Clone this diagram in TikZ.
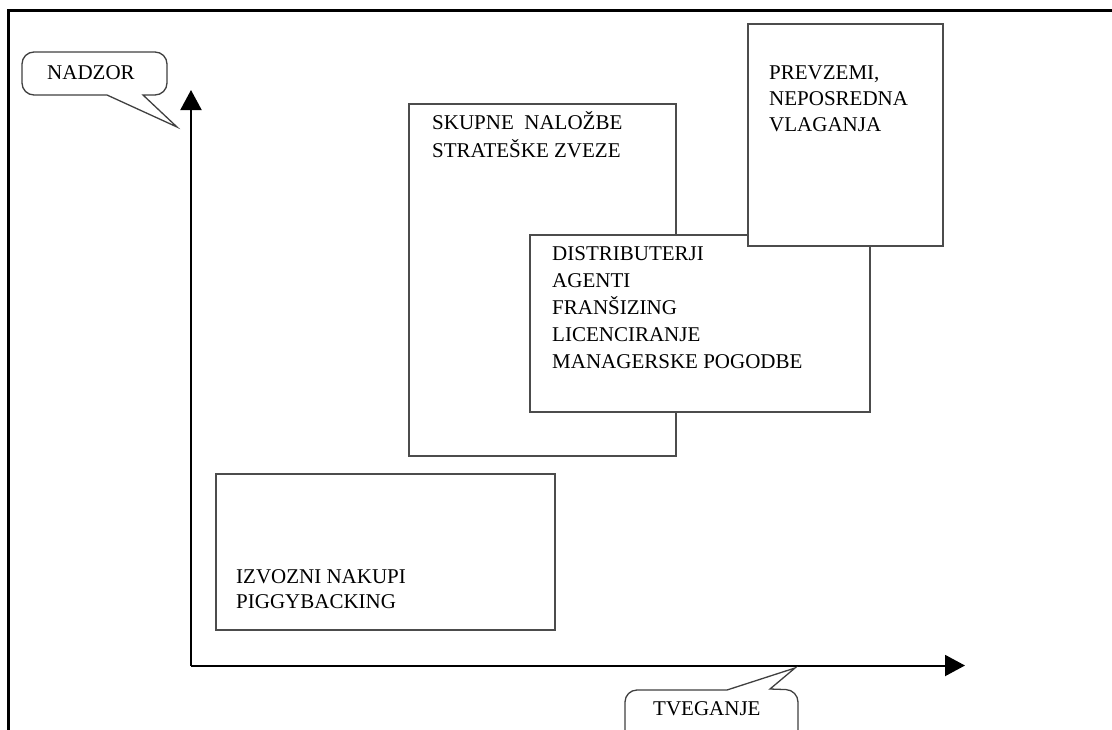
\documentclass[tikz,border=0pt]{standalone}
\usepackage{fontspec}
\setmainfont{Liberation Serif}
\usetikzlibrary{arrows.meta}
\tikzset{
  boxshape/.style={draw=black!70, line width=1.6pt, fill=white, rectangle, inner sep=0pt, anchor=north west},
  boxtext/.style={anchor=base west, inner sep=0pt, align=left, text=black},
  calloutline/.style={draw=black!75, line width=1.3pt, fill=white},
  axisline/.style={draw=black, line width=2pt, -{Triangle[length=20pt,width=21pt]}},
}
\begin{document}
\begin{tikzpicture}[x=1pt,y=-1pt]
\useasboundingbox (0,0) rectangle (1112,729);
\clip (0,0) rectangle (1112,729);
% frame
\draw[line width=3pt] (1113,10.5) -- (8,10.5) -- (8,730);
% boxes
\node[boxshape, minimum width=267pt, minimum height=352pt] (skupne) at (408,103) {};
\node[boxshape, minimum width=340pt, minimum height=177pt] (distrib) at (529,234) {};
\node[boxshape, minimum width=195pt, minimum height=222pt] (prevzemi) at (747,23) {};
\node[boxshape, minimum width=339pt, minimum height=156pt] (izvozni) at (215,473) {};
% texts (base anchor = baseline of last line)
\node[boxtext, font=\fontsize{21}{28}\selectfont] (tskupne) at (432,157) {SKUPNE\ \ NALOŽBE\\STRATEŠKE ZVEZE};
\node[boxtext, font=\fontsize{21}{26.8}\selectfont] (tdistrib) at (552,368) {DISTRIBUTERJI\\AGENTI\\FRANŠIZING\\LICENCIRANJE\\MANAGERSKE POGODBE};
\node[boxtext, font=\fontsize{21}{26}\selectfont] (tprevzemi) at (769,131) {PREVZEMI,\\NEPOSREDNA\\VLAGANJA};
\node[boxtext, font=\fontsize{21}{25}\selectfont] (tizvozni) at (236,608) {IZVOZNI NAKUPI\\PIGGYBACKING};
% axes
\coordinate (origin) at (191,665.5);
\coordinate (ytip) at (191,90);
\coordinate (xtip) at (965,665.5);
\draw[axisline] (origin) -- (ytip);
\draw[axisline] (origin) -- (xtip);
% callouts
\draw[calloutline] (143,95) [rounded corners=12pt] -- (167,95) -- (167,52) -- (22,52) -- (22,95) [sharp corners] -- (107,95) -- (177,127) -- cycle;
\node[boxtext, font=\fontsize{21}{25}\selectfont] (nadzor) at (47,79) {NADZOR};
\draw[calloutline] (727,690) [rounded corners=12pt] -- (625,690) -- (625,750) -- (798,750) -- (798,690) [sharp corners] -- (770,689) -- (795,668) -- cycle;
\node[boxtext, font=\fontsize{21}{25}\selectfont] (tveganje) at (653,715) {TVEGANJE};
\end{tikzpicture}
\end{document}
